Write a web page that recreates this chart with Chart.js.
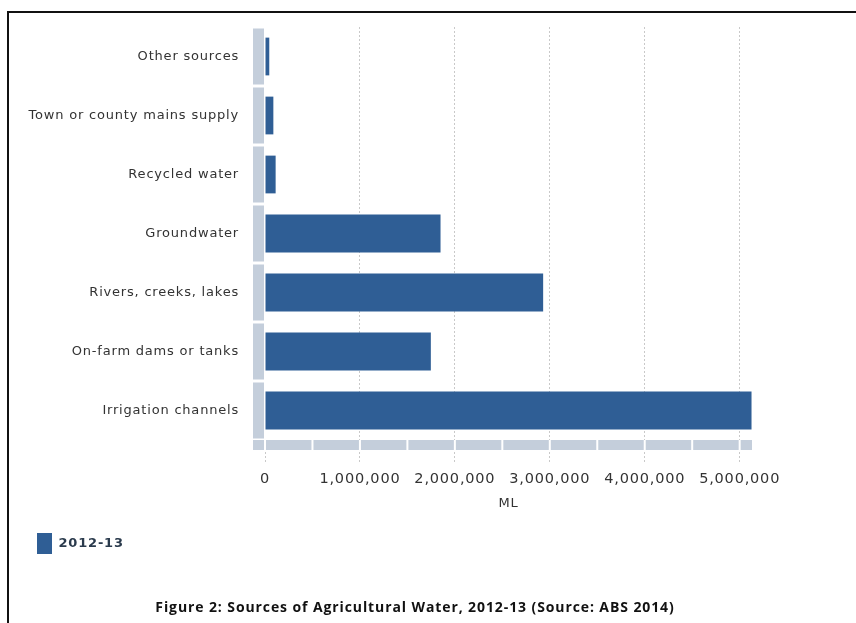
<!DOCTYPE html>
<html>
<head>
<meta charset="utf-8">
<script src="https://cdn.jsdelivr.net/npm/chart.js@4/dist/chart.umd.min.js"></script>
<style>
  html, body { margin: 0; padding: 0; background: #fff; }
  #wrap { position: relative; width: 856px; height: 623px; overflow: hidden; }
  #frame { position: absolute; left: 7px; top: 11px; width: 900px; height: 700px;
           border-left: 2px solid #111; border-top: 2px solid #111; pointer-events: none; }
  #caption { position: absolute; left: 0; width: 830px; top: 597px; text-align: center;
             font: bold 14px 'Open Sans', sans-serif; color: #111; letter-spacing: 0.9px; }
  canvas { position: absolute; left: 0; top: 0; }
</style>
</head>
<body>
<div id="wrap">
  <canvas id="chart" width="856" height="623"></canvas>
  <div id="frame"></div>
  <div id="caption"></div>
</div>
<script>
// ===== Data =====
const categories = [
    'Other sources',
    'Town or county mains supply',
    'Recycled water',
    'Groundwater',
    'Rivers, creeks, lakes',
    'On-farm dams or tanks',
    'Irrigation channels',
];
const seriesName = '2012-13';
const volumesML = [45000, 88000, 112000, 1849000, 2930000, 1747000, 5125000];
const xTicks = [0, 1000000, 2000000, 3000000, 4000000, 5000000];
const axisTitle = 'ML';
const figureTitle = 'Figure 2: Sources of Agricultural Water, 2012-13 (Source: ABS 2014)';

const colors = {
    bar: '#2f5e95',
    strip: '#c4cedb',
    grid: '#c9c9c9',
    text: '#333333',
    legendText: '#2b3b4d',
};

document.getElementById('caption').textContent = figureTitle;

// canvas letter spacing, reset whenever the canvas is resized
const spacing = {
    id: 'spacing',
    beforeLayout(chart) { chart.ctx.letterSpacing = '0.8px'; },
    beforeDraw(chart) { chart.ctx.letterSpacing = '0.8px'; },
};

// grey strip beside each category + segmented band under the plot
const axisBands = {
    id: 'axisBands',
    beforeDatasetsDraw(chart) {
        const { ctx, chartArea, scales: { x, y } } = chart;
        const rowH = (chartArea.bottom - chartArea.top) / categories.length;
        ctx.save();
        ctx.fillStyle = colors.strip;
        categories.forEach((c, i) => {
            const cy = y.getPixelForValue(i);
            ctx.fillRect(chartArea.left - 12, cy - rowH / 2 + 1.5, 11, rowH - 3);
        });
        // band
        ctx.fillRect(chartArea.left - 12, chartArea.bottom, chartArea.right - chartArea.left + 12, 10);
        ctx.fillStyle = '#fff';
        for (let v = 0; v <= x.max; v += 500000) {
            const px = x.getPixelForValue(v);
            ctx.fillRect(px - 1, chartArea.bottom, 2, 10);
        }
        ctx.restore();
    }
};

new Chart(document.getElementById('chart'), {
    type: 'bar',
    data: {
        labels: categories,
        datasets: [{
            label: seriesName,
            data: volumesML,
            backgroundColor: colors.bar,
            borderWidth: 0,
            barPercentage: 0.64,
            categoryPercentage: 1,
        }]
    },
    options: {
        indexAxis: 'y',
        responsive: false,
        animation: false,
        devicePixelRatio: 1,
        layout: { padding: { top: 27, left: 12, right: 104, bottom: 59 } },
        plugins: {
            legend: {
                position: 'bottom',
                align: 'start',
                labels: {
                    boxWidth: 15,
                    boxHeight: 21,
                    padding: 25,
                    color: colors.legendText,
                    font: { family: "'DejaVu Sans'", size: 13, weight: 'bold' },
                }
            },
            tooltip: { enabled: false },
        },
        scales: {
            x: {
                min: 0,
                max: 5130000,
                afterBuildTicks: (scale) => {
                    scale.ticks = xTicks.map(v => ({ value: v }));
                },
                afterFit: (scale) => { scale.height = 68; },
                grid: {
                    color: (c) => c.tick && c.tick.value === 0 ? 'rgba(0,0,0,0)' : colors.grid,
                    tickColor: colors.grid,
                    tickLength: 23,
                    tickBorderDash: [2, 2],
                },
                border: { display: false, dash: [2, 2] },
                ticks: {
                    color: colors.text,
                    padding: 8,
                    maxRotation: 0,
                    font: { family: "'DejaVu Sans'", size: 14.5 },
                    callback: (v) => v.toLocaleString('en-US'),
                },
                title: {
                    display: true,
                    text: axisTitle,
                    color: colors.text,
                    padding: { top: 0, bottom: -3 },
                    font: { family: "'DejaVu Sans'", size: 13 },
                }
            },
            y: {
                afterFit: (scale) => { scale.width = 253; },
                grid: { display: false, tickLength: 25 },
                border: { display: false },
                ticks: {
                    color: colors.text,
                    padding: 1,
                    font: { family: "'DejaVu Sans'", size: 13 },
                }
            }
        }
    },
    plugins: [spacing, axisBands]
});
</script>
</body>
</html>
